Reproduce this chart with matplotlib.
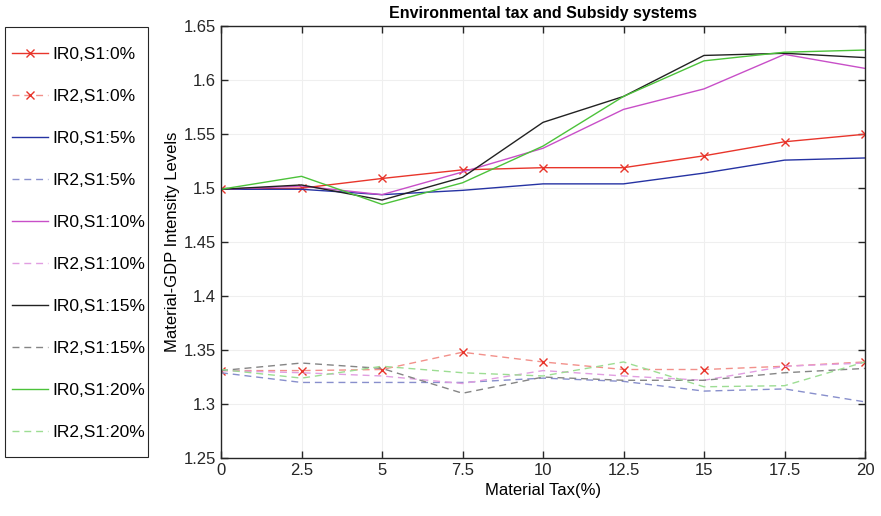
import matplotlib
matplotlib.use("Agg")
import matplotlib.pyplot as plt
from matplotlib.patches import Rectangle
from matplotlib.colors import to_rgb
from matplotlib.ticker import FormatStrFormatter, MultipleLocator

plt.rcParams['font.family'] = ['Liberation Sans', 'DejaVu Sans']

tax = [0, 2.5, 5, 7.5, 10, 12.5, 15, 17.5, 20]

ir0_s0 = [1.499, 1.500, 1.509, 1.517, 1.519, 1.519, 1.530, 1.543, 1.550]
ir2_s0 = [1.331, 1.331, 1.332, 1.348, 1.339, 1.332, 1.332, 1.335, 1.339]
ir0_s5 = [1.499, 1.499, 1.494, 1.498, 1.504, 1.504, 1.514, 1.526, 1.528]
ir2_s5 = [1.329, 1.320, 1.320, 1.320, 1.324, 1.321, 1.312, 1.314, 1.302]
ir0_s10 = [1.499, 1.502, 1.494, 1.515, 1.537, 1.573, 1.592, 1.624, 1.611]
ir2_s10 = [1.331, 1.329, 1.326, 1.319, 1.331, 1.326, 1.322, 1.335, 1.338]
ir0_s15 = [1.499, 1.503, 1.489, 1.510, 1.561, 1.585, 1.623, 1.625, 1.621]
ir2_s15 = [1.331, 1.338, 1.333, 1.310, 1.325, 1.322, 1.322, 1.329, 1.333]
ir0_s20 = [1.499, 1.511, 1.485, 1.505, 1.539, 1.585, 1.618, 1.626, 1.628]
ir2_s20 = [1.332, 1.324, 1.335, 1.329, 1.326, 1.339, 1.316, 1.317, 1.339]

labels = ["IR0,S1:0%", "IR2,S1:0%", "IR0,S1:5%", "IR2,S1:5%",
          "IR0,S1:10%", "IR2,S1:10%", "IR0,S1:15%", "IR2,S1:15%",
          "IR0,S1:20%", "IR2,S1:20%"]
series = [ir0_s0, ir2_s0, ir0_s5, ir2_s5, ir0_s10, ir2_s10,
          ir0_s15, ir2_s15, ir0_s20, ir2_s20]
colors = ["#e8352b", "#e8352b", "#2633a3", "#2633a3", "#c84fc8", "#c84fc8",
          "#222222", "#222222", "#4cc23a", "#4cc23a"]


def lighten(c, f=0.45):
    r, g, b = to_rgb(c)
    return (r + (1 - r) * f, g + (1 - g) * f, b + (1 - b) * f)


W, H = 881, 516
fig = plt.figure(figsize=(W / 100, H / 100), dpi=100)
ax = fig.add_axes([221 / W, 1 - 458 / H, (865 - 221) / W, (458 - 26.3) / H])

for i, (vals, lab, col) in enumerate(zip(series, labels, colors)):
    dashed = i % 2 == 1
    kw = dict(color=lighten(col) if dashed else col, lw=1.0, label=lab)
    if dashed:
        kw.update(linestyle=(0, (5, 3.5)))
    if i < 2:
        kw.update(marker='x', markersize=5.5, markeredgewidth=1.0,
                  markeredgecolor=col)
    ax.plot(tax, vals, **kw)

ax.set_xlim(0, 20)
ax.set_ylim(1.25, 1.65)
ax.xaxis.set_major_locator(MultipleLocator(2.5))
ax.yaxis.set_major_locator(MultipleLocator(0.05))
ax.xaxis.set_major_formatter(FormatStrFormatter('%g'))
ax.yaxis.set_major_formatter(FormatStrFormatter('%g'))
ax.tick_params(direction='in', top=True, right=True, length=5, width=1,
               labelsize=12, colors='#262626')
for s in ax.spines.values():
    s.set_color('#262626')
    s.set_linewidth(1.0)
ax.grid(True, color='#efefef', lw=0.8)
ax.set_axisbelow(True)

ax.set_title("Environmental tax and Subsidy systems", fontsize=11.5,
             fontweight='bold', pad=6)
ax.set_xlabel("Material Tax(%)", fontsize=12, labelpad=4)
ax.set_ylabel("Material-GDP Intensity Levels", fontsize=12, labelpad=3)

# legend frame drawn as a figure-level box, entries placed inside it
fig.patches.append(Rectangle((5 / W, 1 - 457 / H), 143 / W, 430 / H,
                             transform=fig.transFigure, fill=False,
                             edgecolor='#262626', lw=0.8))
handles, labs = ax.get_legend_handles_labels()
leg = fig.legend(handles, labs, loc='upper left',
                 bbox_to_anchor=(12 / W, 1 - 46.5 / H),
                 fontsize=12.5, frameon=False, handlelength=2.07,
                 handletextpad=0.23, labelspacing=1.55, borderpad=0,
                 borderaxespad=0)

fig.savefig("out.png", dpi=100)
